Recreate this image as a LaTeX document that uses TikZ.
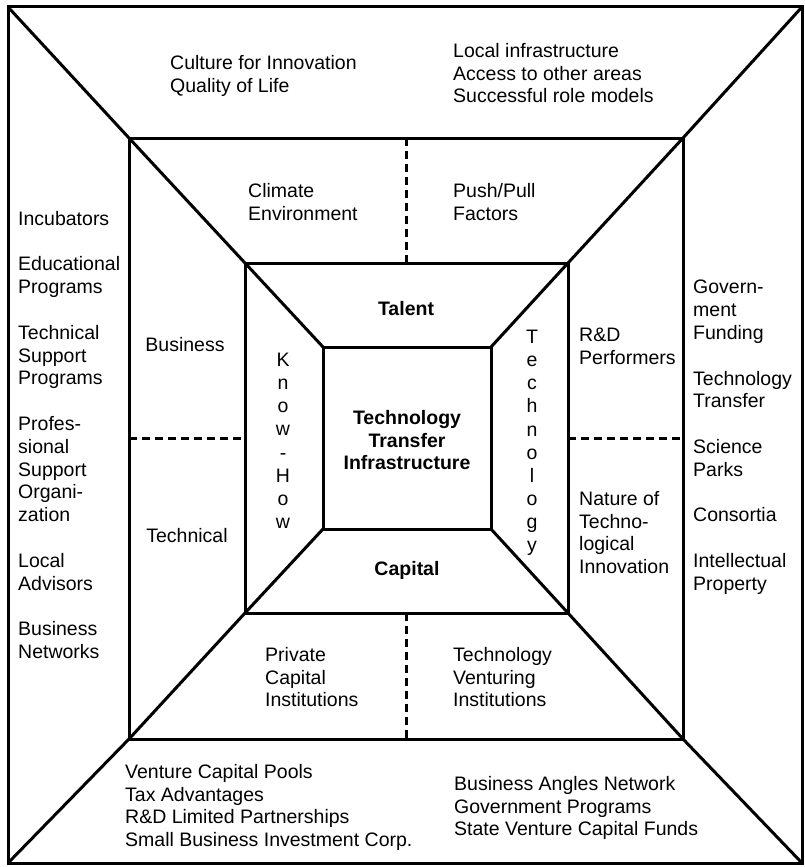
\documentclass[tikz,border=0pt]{standalone}
\usepackage{fontspec}
\setmainfont{Liberation Sans}

\tikzset{
	frame/.style={line width=3pt, line join=miter},
	split/.style={line width=3pt, dash pattern=on 8pt off 5pt},
	txt/.style={inner sep=0pt, align=left, anchor=north west,
		font=\fontsize{19.5}{22.8}\selectfont},
	key/.style={inner sep=0pt, anchor=base,
		font=\fontsize{19.5}{22.8}\selectfont\bfseries},
	letters/.style={inner sep=0pt, align=center, anchor=north,
		font=\fontsize{19.5}{23.1}\selectfont}
}

\begin{document}
\begin{tikzpicture}[x=1pt, y=-1pt]
	\useasboundingbox (0,0) rectangle (804,867);

	% corners: outer, middle, inner and core square
	\coordinate (o1) at (8,7);     \coordinate (o2) at (802,7);
	\coordinate (o3) at (802,863); \coordinate (o4) at (8,863);
	\coordinate (m1) at (129,138); \coordinate (m2) at (683,138);
	\coordinate (m3) at (683,739); \coordinate (m4) at (129,739);
	\coordinate (i1) at (245,263); \coordinate (i2) at (568,263);
	\coordinate (i3) at (568,613); \coordinate (i4) at (245,613);
	\coordinate (c1) at (323,347); \coordinate (c2) at (491,347);
	\coordinate (c3) at (491,529); \coordinate (c4) at (323,529);

	\foreach \s in {o,m,i,c}
		\draw[frame] (\s1) -- (\s2) -- (\s3) -- (\s4) -- cycle;
	\foreach \k in {1,...,4}
		\draw[frame] (o\k) -- (m\k) -- (i\k) -- (c\k);

	% dashed dividers in the middle ring
	\coordinate (dt1) at (406,138); \coordinate (dt2) at (406,263);
	\coordinate (db1) at (406,613); \coordinate (db2) at (406,739);
	\coordinate (dl1) at (129,438); \coordinate (dl2) at (245,438);
	\coordinate (dr1) at (568,438); \coordinate (dr2) at (683,438);
	\draw[split] (dt1) -- (dt2);
	\draw[split] (db1) -- (db2);
	\draw[split] (dl1) -- (dl2);
	\draw[split] (dr1) -- (dr2);

	% core
	\node[key, align=center, anchor=north] (core) at (407,410)
		{Technology\\Transfer\\Infrastructure};
	\node[key] (talent) at (406,315) {Talent};
	\node[key] (capital) at (407,575) {Capital};
	\node[letters] (knowhow) at (283,353) {K\\n\\o\\w\\-\\H\\o\\w};
	\node[letters] (tech) at (532,330) {T\\e\\c\\h\\n\\o\\l\\o\\g\\y};

	% middle ring
	\node[txt] (climate) at (248,183) {Climate\\Environment};
	\node[txt] (push) at (453,183) {Push/Pull\\Factors};
	\node[txt, anchor=base] (business) at (185,351) {Business};
	\node[txt, anchor=base] (technical) at (187,542) {Technical};
	\node[txt] (rnd) at (579,328) {R\&D\\Performers};
	\node[txt] (nature) at (579,491) {Nature of\\Techno-\\logical\\Innovation};
	\node[txt] (private) at (265,647) {Private\\Capital\\Institutions};
	\node[txt] (venturing) at (453,647) {Technology\\Venturing\\Institutions};

	% outer ring
	\node[txt] (culture) at (170,55) {Culture for Innovation\\Quality of Life};
	\node[txt] (local) at (453,43)
		{Local infrastructure\\Access to other areas\\Successful role models};
	\node[txt] (support) at (18,211)
		{Incubators\\[22.8pt]
		 Educational\\Programs\\[22.8pt]
		 Technical\\Support\\Programs\\[22.8pt]
		 Profes-\\sional\\Support\\Organi-\\zation\\[22.8pt]
		 Local\\Advisors\\[22.8pt]
		 Business\\Networks};
	\node[txt] (funding) at (693,280)
		{Govern-\\ment\\Funding\\[22.8pt]
		 Technology\\Transfer\\[22.8pt]
		 Science\\Parks\\[22.8pt]
		 Consortia\\[22.8pt]
		 Intellectual\\Property};
	\node[txt] (pools) at (125,764)
		{Venture Capital Pools\\Tax Advantages\\R\&D Limited Partnerships\\Small Business Investment Corp.};
	\node[txt] (angels) at (454,776)
		{Business Angles Network\\Government Programs\\State Venture Capital Funds};
\end{tikzpicture}
\end{document}
